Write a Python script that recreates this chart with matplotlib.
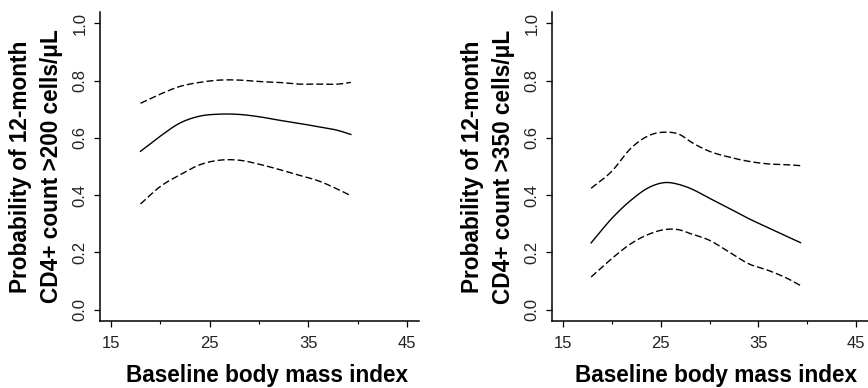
import numpy as np
import matplotlib
matplotlib.use("Agg")
import matplotlib.pyplot as plt

plt.rcParams["font.family"] = ["Liberation Sans", "DejaVu Sans"]

# ---------------------------------------------------------------------------
# Data
# ---------------------------------------------------------------------------
bmi = [18, 20, 22, 24, 26, 28, 30, 32, 34, 36, 38, 39.3]

# Panel A: CD4+ > 200 cells/uL
p200_fit = [0.553, 0.606, 0.652, 0.676, 0.683, 0.682, 0.674, 0.662, 0.651, 0.639, 0.626, 0.612]
p200_upper = [0.721, 0.753, 0.780, 0.794, 0.802, 0.802, 0.797, 0.794, 0.788, 0.788, 0.788, 0.794]
p200_lower = [0.369, 0.430, 0.471, 0.506, 0.522, 0.522, 0.508, 0.490, 0.470, 0.450, 0.420, 0.398]

# Panel B: CD4+ > 350 cells/uL
bmi_b = [17.9, 20, 22, 24, 25.5, 27, 28, 30, 32, 34, 36, 38, 39.3]
p350_fit = [0.233, 0.318, 0.383, 0.430, 0.444, 0.436, 0.424, 0.389, 0.354, 0.318, 0.286, 0.254, 0.234]
p350_upper = [0.424, 0.483, 0.565, 0.611, 0.620, 0.611, 0.588, 0.553, 0.533, 0.518, 0.509, 0.506, 0.503]
p350_lower = [0.114, 0.178, 0.231, 0.266, 0.280, 0.278, 0.266, 0.242, 0.201, 0.160, 0.137, 0.108, 0.084]

x_ticks = [15, 25, 35, 45]
x_minor = [20, 30, 40]
y_ticks = [0.0, 0.2, 0.4, 0.6, 0.8, 1.0]

ylabels = ["Probability of 12-month\nCD4+ count >200 cells/\u03bcL",
           "Probability of 12-month\nCD4+ count >350 cells/\u03bcL"]
xlabel = "Baseline body mass index"


def smooth(x, y, n=200):
    # piecewise cubic Hermite through the read points, for a smooth curve
    x = np.asarray(x, float)
    y = np.asarray(y, float)
    xs = np.linspace(x[0], x[-1], n)
    m = np.gradient(y, x)
    idx = np.clip(np.searchsorted(x, xs) - 1, 0, len(x) - 2)
    h = x[idx + 1] - x[idx]
    t = (xs - x[idx]) / h
    h00 = 2 * t**3 - 3 * t**2 + 1
    h10 = t**3 - 2 * t**2 + t
    h01 = -2 * t**3 + 3 * t**2
    h11 = t**3 - t**2
    ys = h00 * y[idx] + h10 * h * m[idx] + h01 * y[idx + 1] + h11 * h * m[idx + 1]
    return xs, ys


fig = plt.figure(figsize=(8.68, 3.88), dpi=100)
axA = fig.add_axes([100 / 868, 67 / 388, 319 / 868, 309 / 388])
axB = fig.add_axes([552 / 868, 67 / 388, 316 / 868, 309 / 388])

panels = [
    (axA, bmi, p200_fit, p200_upper, p200_lower, ylabels[0], 0.524),
    (axB, bmi_b, p350_fit, p350_upper, p350_lower, ylabels[1], 0.519),
]

for ax, xv, fit, up, lo, ylab, xlab_pos in panels:
    ax.plot(*smooth(xv, fit), color="black", lw=1.0)
    ax.plot(*smooth(xv, up), color="black", lw=1.0, dashes=(5, 2.2))
    ax.plot(*smooth(xv, lo), color="black", lw=1.0, dashes=(5, 2.2))

    ax.set_xlim(13.9, 46.2)
    ax.set_ylim(-0.04, 1.04)
    ax.set_xticks(x_ticks)
    ax.set_xticks(x_minor, minor=True)
    ax.set_yticks(y_ticks)
    ax.set_yticklabels([f"{v:.1f}" for v in y_ticks], rotation=90, va="center")

    for s in ["top", "right"]:
        ax.spines[s].set_visible(False)
    for s in ["left", "bottom"]:
        ax.spines[s].set_linewidth(1.1)

    ax.tick_params(axis="both", which="major", length=4, width=0.9,
                   labelsize=12, colors="black", labelcolor="#222222")
    ax.tick_params(axis="x", which="minor", length=2, width=0.8)
    ax.tick_params(axis="x", pad=7)
    ax.tick_params(axis="y", pad=5)

    ax.set_ylabel(ylab, fontsize=16.3, fontweight="bold", linespacing=1.42, labelpad=7)
    ax.set_xlabel(xlabel, fontsize=16.3, fontweight="bold", labelpad=9, x=xlab_pos)

fig.savefig("out.png", dpi=100)
